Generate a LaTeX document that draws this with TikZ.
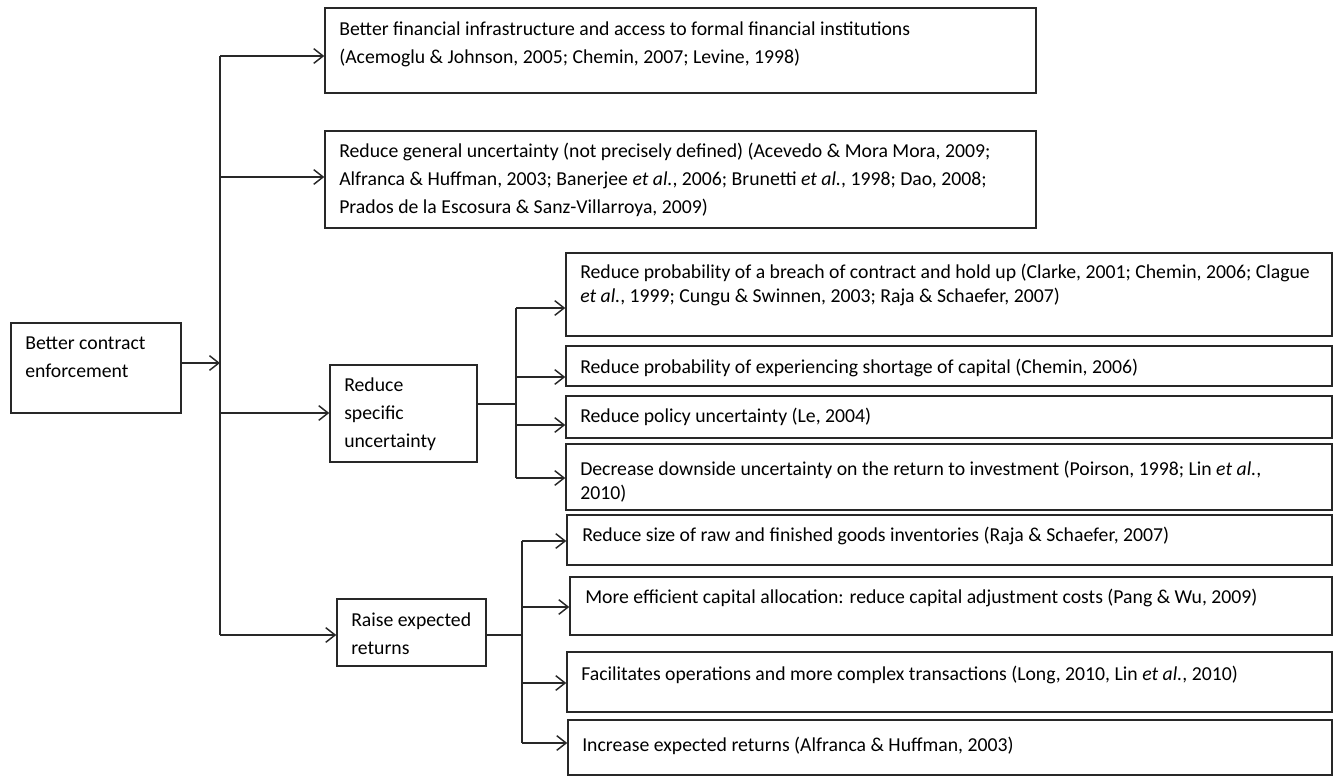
\documentclass[tikz,border=0pt]{standalone}
\usepackage{fontspec}
\setmainfont{Carlito}
\usetikzlibrary{arrows.meta,fit}
\definecolor{ln}{RGB}{40,40,40}
\newcommand{\txtlines}[1]{\begin{tabular}[t]{@{}l@{}}#1\end{tabular}}
\tikzset{
  box/.style={draw=ln, line width=1.1pt, inner sep=0pt, fill=none},
  txt/.style={inner sep=0pt, anchor=base west, text=black, font=\fontsize{14.8}{21}\selectfont},
  tight/.style={font=\fontsize{14.8}{18.5}\selectfont},
  conn/.style={draw=ln, line width=1.1pt},
  arr/.style={conn, -{Straight Barb[length=7pt,width=11pt,line width=1.1pt]}}
}
\begin{document}
\begin{tikzpicture}[x=0.75pt,y=-0.75pt]
\useasboundingbox (0,0) rectangle (1335,776);
% boxes
\node[box, fit={(11,323) (181,413)}] (main) {};
\node[box, fit={(325,8) (1036,93)}] (b1) {};
\node[box, fit={(325,131) (1036,228)}] (b2) {};
\node[box, fit={(330,365) (477,462)}] (spec) {};
\node[box, fit={(337,599) (486,666)}] (ret) {};
\node[box, fit={(566,253) (1332,336)}] (c1) {};
\node[box, fit={(566,346) (1332,386)}] (c2) {};
\node[box, fit={(566,396) (1332,438)}] (c3) {};
\node[box, fit={(566,444) (1332,510)}] (c4) {};
\node[box, fit={(567,515) (1332,565)}] (r1) {};
\node[box, fit={(570,577) (1332,635)}] (r2) {};
\node[box, fit={(567,652) (1332,712)}] (r3) {};
\node[box, fit={(568,720) (1332,775)}] (r4) {};
% texts
\node[txt] (maint) at (25,349) {\txtlines{Better contract\\enforcement}};
\node[txt] (b1t) at (339,35) {\txtlines{Better financial infrastructure and access to formal financial institutions\\(Acemoglu \& Johnson, 2005; Chemin, 2007; Levine, 1998)}};
\node[txt] (b2t) at (339,157) {\txtlines{Reduce general uncertainty (not precisely defined) (Acevedo \& Mora Mora, 2009;\\Alfranca \& Huffman, 2003; Banerjee \textit{et al.}, 2006; Brunetti \textit{et al.}, 1998; Dao, 2008;\\Prados de la Escosura \& Sanz-Villarroya, 2009)}};
\node[txt] (spect) at (344,391) {\txtlines{Reduce\\specific\\uncertainty}};
\node[txt] (rett) at (351,626) {\txtlines{Raise expected\\returns}};
\node[txt, tight] (c1t) at (580,278) {\txtlines{Reduce probability of a breach of contract and hold up (Clarke, 2001; Chemin, 2006; Clague\\\textit{et al.}, 1999; Cungu \& Swinnen, 2003; Raja \& Schaefer, 2007)}};
\node[txt] (c2t) at (580,373) {Reduce probability of experiencing shortage of capital (Chemin, 2006)};
\node[txt] (c3t) at (580,422) {Reduce policy uncertainty (Le, 2004)};
\node[txt, font=\fontsize{14.8}{18}\selectfont] (c4t) at (580,475) {\txtlines{Decrease downside uncertainty on the return to investment (Poirson, 1998; Lin \textit{et al.},\\2010)}};
\node[txt] (r1t) at (582,541) {Reduce size of raw and finished goods inventories (Raja \& Schaefer, 2007)};
\node[txt] (r2t) at (585,603) {More efficient capital allocation: reduce capital adjustment costs (Pang \& Wu, 2009)};
\node[txt] (r3t) at (581,680) {Facilitates operations and more complex transactions (Long, 2010, Lin \textit{et al.}, 2010)};
\node[txt] (r4t) at (582,751) {Increase expected returns (Alfranca \& Huffman, 2003)};
% trunk coordinates
\coordinate (t1) at (220,56);
\coordinate (t2) at (220,177);
\coordinate (tm) at (220,363);
\coordinate (ts) at (220,413);
\coordinate (tr) at (220,635);
\draw[conn] (t1) -- (tr);
\draw[arr] (main.east |- tm) -- (tm);
\draw[arr] (t1) -- (b1.west |- t1);
\draw[arr] (t2) -- (b2.west |- t2);
\draw[arr] (ts) -- (spec.west |- ts);
\draw[arr] (tr) -- (ret.west |- tr);
% specific branch
\coordinate (sj) at (516,404);
\coordinate (s1) at (516,308);
\coordinate (s2) at (516,377);
\coordinate (s3) at (516,425);
\coordinate (s4) at (516,478);
\draw[conn] (spec.east |- sj) -- (sj);
\draw[conn] (s1) -- (s4);
\draw[arr] (s1) -- (c1.west |- s1);
\draw[arr] (s2) -- (c2.west |- s2);
\draw[arr] (s3) -- (c3.west |- s3);
\draw[arr] (s4) -- (c4.west |- s4);
% returns branch
\coordinate (rj) at (522,635);
\coordinate (q1) at (522,541);
\coordinate (q2) at (522,607);
\coordinate (q3) at (522,683);
\coordinate (q4) at (522,743);
\draw[conn] (ret.east |- rj) -- (rj);
\draw[conn] (q1) -- (q4);
\draw[arr] (q1) -- (r1.west |- q1);
\draw[arr] (q2) -- (r2.west |- q2);
\draw[arr] (q3) -- (r3.west |- q3);
\draw[arr] (q4) -- (r4.west |- q4);
\end{tikzpicture}
\end{document}
